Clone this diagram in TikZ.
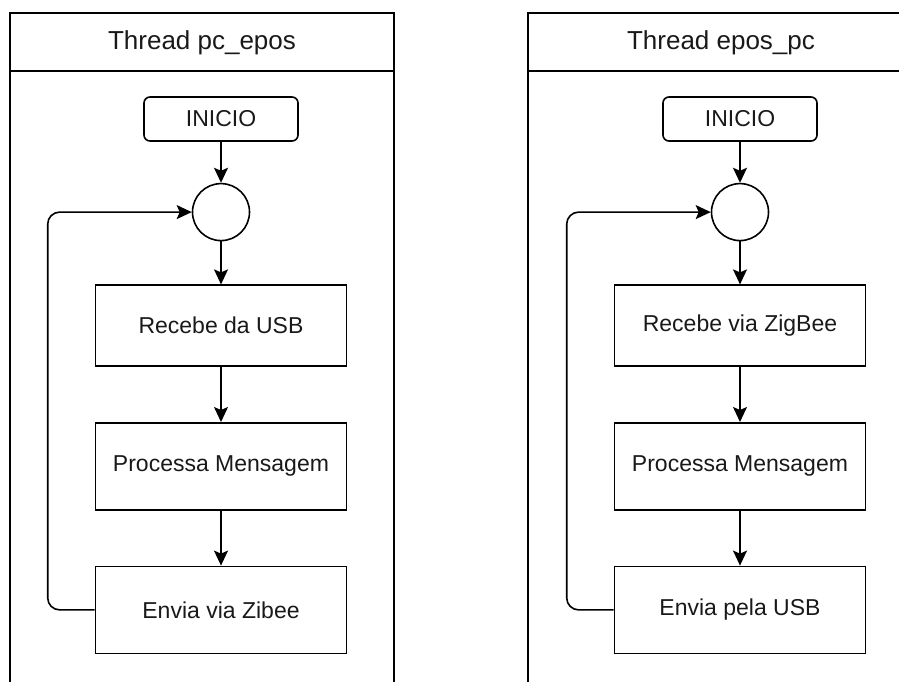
\documentclass[tikz,border=0pt]{standalone}
\usepackage{fontspec}
\setmainfont{Liberation Sans}
\usetikzlibrary{arrows.meta,positioning}

\tikzset{
  frameline/.style={line width=1.6pt},
  titletext/.style={font=\fontsize{26}{30}\selectfont, text=black!90},
  startbox/.style={draw, line width=1.6pt, rounded corners=6pt, minimum width=154pt, minimum height=44pt, text=black!90},
  hub/.style={draw, circle, line width=1.6pt, minimum size=57pt},
  procbox/.style={draw, line width=1.6pt, minimum width=251pt, text=black!90},
  link/.style={line width=1.6pt, -{Stealth[length=15pt,width=14pt,inset=3pt]}},
  backlink/.style={link, rounded corners=12pt}
}

\begin{document}
\begin{tikzpicture}[x=1pt, y=-1pt, font=\fontsize{23}{27}\selectfont]
    \clip (0,0) rectangle (899,682);
    % --- Thread pc_epos ---
    \draw[frameline] (10,690) -- (10,13) -- (394,13) -- (394,690);
    \draw[frameline] (10,71) -- (394,71);
    \node[titletext] (titleA) at (202,43) {Thread pc\_epos};
    \node[startbox] (startA) at (221,119) {INICIO};
    \node[hub, below=41pt of startA] (hubA) {};
    \node[procbox, minimum height=81pt, below=43pt of hubA] (recvA) {Recebe da USB};
    \node[procbox, minimum height=87pt, below=55pt of recvA] (procA) {Processa Mensagem};
    \node[procbox, minimum height=87pt, below=55pt of procA] (sendA) {Envia via Zibee};
    \draw[link] (startA) -- (hubA);
    \draw[link] (hubA) -- (recvA);
    \draw[link] (recvA) -- (procA);
    \draw[link] (procA) -- (sendA);
    \draw[backlink] (sendA.west) -- ++(-47,0) |- (hubA.west);
    % --- Thread epos_pc ---
    \draw[frameline] (528,690) -- (528,13) -- (912,13) -- (912,690);
    \draw[frameline] (528,71) -- (912,71);
    \node[titletext] (titleB) at (721,43) {Thread epos\_pc};
    \node[startbox] (startB) at (740,119) {INICIO};
    \node[hub, below=41pt of startB] (hubB) {};
    \node[procbox, minimum height=81pt, below=43pt of hubB] (recvB) {Recebe via ZigBee};
    \node[procbox, minimum height=87pt, below=55pt of recvB] (procB) {Processa Mensagem};
    \node[procbox, minimum height=87pt, below=55pt of procB] (sendB) {Envia pela USB};
    \draw[link] (startB) -- (hubB);
    \draw[link] (hubB) -- (recvB);
    \draw[link] (recvB) -- (procB);
    \draw[link] (procB) -- (sendB);
    \draw[backlink] (sendB.west) -- ++(-47,0) |- (hubB.west);
\end{tikzpicture}
\end{document}
